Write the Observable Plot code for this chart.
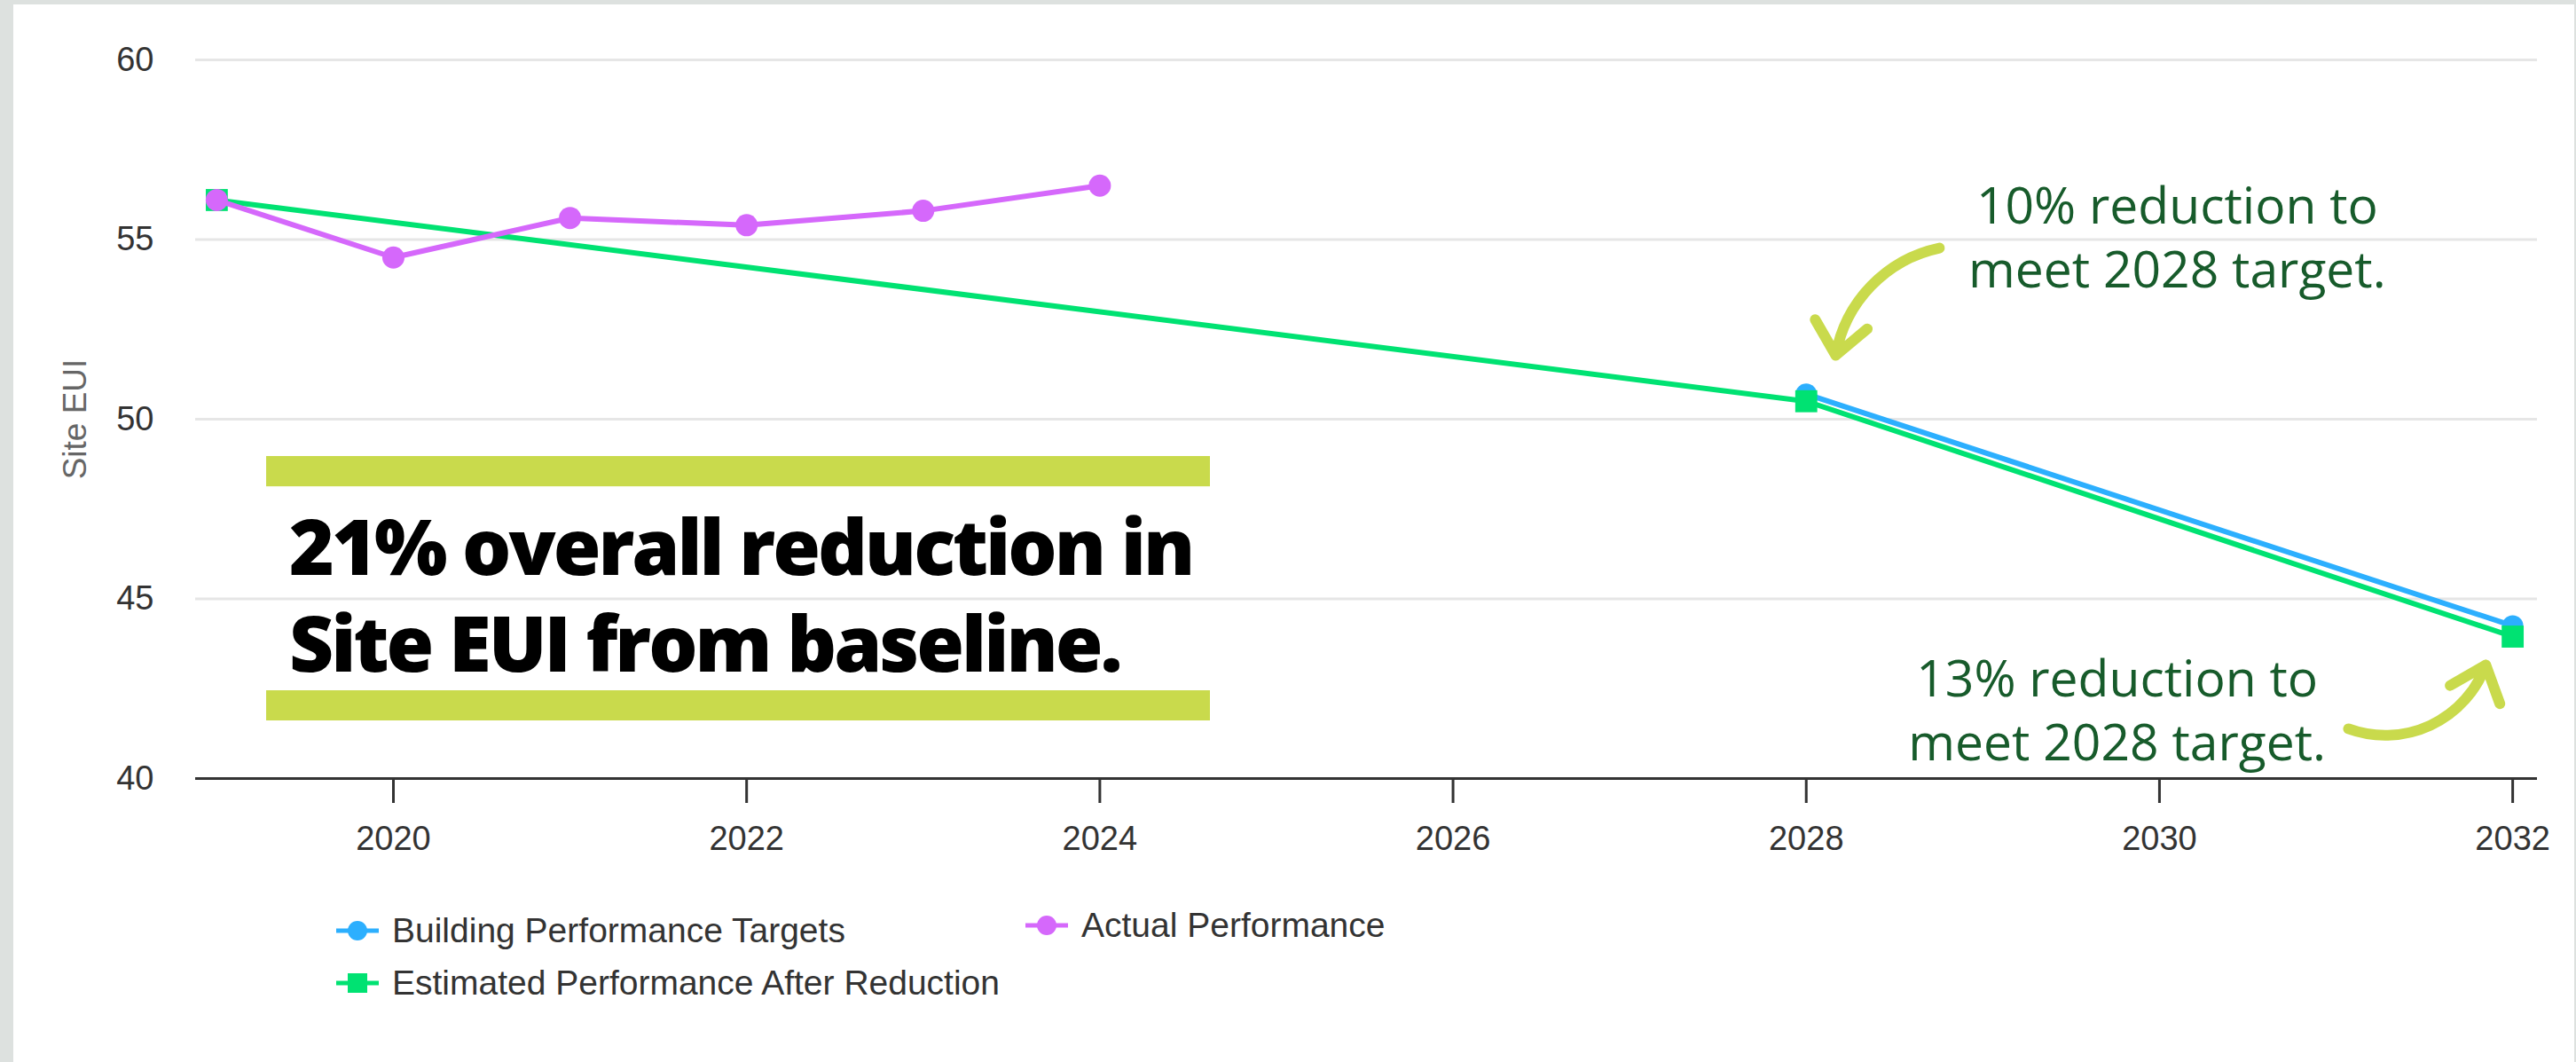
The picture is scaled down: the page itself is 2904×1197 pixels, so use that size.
<!DOCTYPE html>
<html>
<head>
<meta charset="utf-8">
<script src="https://cdn.jsdelivr.net/npm/d3@7"></script>
<script src="https://cdn.jsdelivr.net/npm/@observablehq/plot@0.6"></script>
<style>
  html, body { margin: 0; padding: 0; }
  body { width: 2904px; height: 1197px; background: #dde1df; position: relative; overflow: hidden;
         font-family: "Liberation Sans", Arial, sans-serif; }
  #panel { position: absolute; left: 15px; top: 5px; width: 2887px; height: 1192px; background: #fff; }
  #chart { position: absolute; left: 0; top: 0; }
  .legend-item { position: absolute; display: flex; align-items: center; height: 50px;
                 font-size: 39px; color: #333; white-space: nowrap; }
  .legend-item svg { margin-right: 15px; flex: none; }
</style>
</head>
<body>
<div id="panel">
  <div id="chart"></div>
  <div id="legend"></div>
</div>
<script>
// ---------- data ----------
const actualYears = [2019, 2020, 2021, 2022, 2023, 2024];
const actualEUI   = [56.1, 54.5, 55.6, 55.4, 55.8, 56.5];
const targetYears = [2028, 2032];
const targetEUI   = [50.7, 44.25];
const estimatedYears = [2019, 2028, 2032];
const estimatedEUI   = [56.1, 50.5, 43.95];

const xTicks = [2020, 2022, 2024, 2026, 2028, 2030, 2032];
const yTicks = [40, 45, 50, 55, 60];
const yLabel = "Site EUI";
const seriesNames = ["Building Performance Targets", "Actual Performance", "Estimated Performance After Reduction"];

// annotations (in data units)
const headlineText = "21% overall reduction in\nSite EUI from baseline.";
const headlineX = 2019.41, headlineY = 45.19;
const highlightX1 = 2019.282, highlightX2 = 2024.626;
const highlightY1 = [48.963, 42.444];
const highlightY2 = [48.12, 41.605];
const calloutText = ["10% reduction to\nmeet 2028 target.", "13% reduction to\nmeet 2028 target."];
const calloutX = [2030.10, 2029.76];
const calloutY = [55.12, 41.96];
const arrowX1 = [2028.754, 2031.07];
const arrowY1 = [54.765, 41.383];
const arrowX2 = [2028.167, 2031.848];
const arrowY2 = [51.778, 43.16];

// ---------- build tables ----------
const toRows = (xs, ys) => xs.map((x, i) => ({year: x, eui: ys[i]}));
const actual = toRows(actualYears, actualEUI);
const target = toRows(targetYears, targetEUI);
const estimated = toRows(estimatedYears, estimatedEUI);

const BLUE = "#2caffe", PURPLE = "#d568fb", GREEN = "#00e272", LIME = "#c9da4c", DKGREEN = "#175b2b";

const chart = Plot.plot({
  width: 2887,
  height: 1000,
  marginLeft: 205,
  marginRight: 42,
  marginTop: 62,
  marginBottom: 128,
  x: {domain: [2018.88, 2032.14]},
  y: {domain: [40, 60]},
  style: {fontFamily: "'Liberation Sans', Arial, sans-serif", color: "#333", background: "transparent", overflow: "visible"},
  marks: [
    Plot.gridY(yTicks, {stroke: "#e6e6e6", strokeOpacity: 1, strokeWidth: 3}),
    Plot.ruleY([40], {stroke: "#333", strokeWidth: 3}),
    Plot.axisX(xTicks, {tickSize: 28, tickPadding: 26, fontSize: 38, strokeWidth: 3, tickFormat: d => String(d), label: null}),
    Plot.axisY(yTicks, {tickSize: 0, tickPadding: 47, fontSize: 38, label: null}),
    Plot.text([yLabel], {frameAnchor: "left", dx: -135, rotate: -90, fontSize: 37, fill: "#666", textAnchor: "middle", lineAnchor: "middle"}),

    // highlight bars
    Plot.rect([0, 1], {x1: () => highlightX1, x2: () => highlightX2, y1: i => highlightY1[i], y2: i => highlightY2[i], fill: LIME}),

    // series
    Plot.line(target, {x: "year", y: "eui", stroke: BLUE, strokeWidth: 6}),
    Plot.dot(target, {x: "year", y: "eui", r: 12, fill: BLUE}),
    Plot.line(estimated, {x: "year", y: "eui", stroke: GREEN, strokeWidth: 6}),
    Plot.dot(estimated, {x: "year", y: "eui", symbol: "square", r: 14, fill: GREEN}),
    Plot.line(actual, {x: "year", y: "eui", stroke: PURPLE, strokeWidth: 6}),
    Plot.dot(actual, {x: "year", y: "eui", r: 12.5, fill: PURPLE}),

    // headline
    Plot.text([headlineText], {x: () => headlineX, y: () => headlineY, textAnchor: "start", lineAnchor: "middle",
      lineHeight: 1.264, fontSize: 87, fontWeight: 800, fontFamily: "'Open Sans', sans-serif", fill: "#000"}),

    // callouts
    Plot.text([0, 1], {x: i => calloutX[i], y: i => calloutY[i], text: i => calloutText[i], textAnchor: "middle",
      lineAnchor: "middle", lineHeight: 1.25, fontSize: 57, fontFamily: "'Open Sans', sans-serif", fill: DKGREEN}),

    Plot.arrow([0], {x1: i => arrowX1[i], y1: i => arrowY1[i], x2: i => arrowX2[i], y2: i => arrowY2[i],
      bend: -34, stroke: LIME, strokeWidth: 12, headLength: 5.8, headAngle: 80, strokeLinecap: "round", strokeLinejoin: "round"}),
    Plot.arrow([1], {x1: i => arrowX1[i], y1: i => arrowY1[i], x2: i => arrowX2[i], y2: i => arrowY2[i],
      bend: -45, stroke: LIME, strokeWidth: 12, headLength: 5.8, headAngle: 80, strokeLinecap: "round", strokeLinejoin: "round"})
  ]
});
// tighten the headline's letter spacing
d3.select(chart).selectAll('g[font-weight="800"]').style("letter-spacing", "-3px");
document.getElementById("chart").appendChild(chart);

// ---------- legend ----------
const legendColors = [BLUE, PURPLE, GREEN];
const legendSymbols = ["circle", "circle", "square"];
const legendPos = [[364, 1019], [1141, 1013], [364, 1078]];
const legend = document.getElementById("legend");
seriesNames.forEach((name, i) => {
  const item = document.createElement("div");
  item.className = "legend-item";
  item.style.left = legendPos[i][0] + "px";
  item.style.top = legendPos[i][1] + "px";
  const c = legendColors[i];
  const marker = legendSymbols[i] === "circle"
    ? `<circle cx="24" cy="13" r="11" fill="${c}"/>`
    : `<rect x="13" y="2" width="22" height="22" fill="${c}"/>`;
  item.innerHTML = `<svg width="48" height="26"><line x1="0" x2="48" y1="13" y2="13" stroke="${c}" stroke-width="5"/>${marker}</svg><span>${name}</span>`;
  legend.appendChild(item);
});
</script>
</body>
</html>
